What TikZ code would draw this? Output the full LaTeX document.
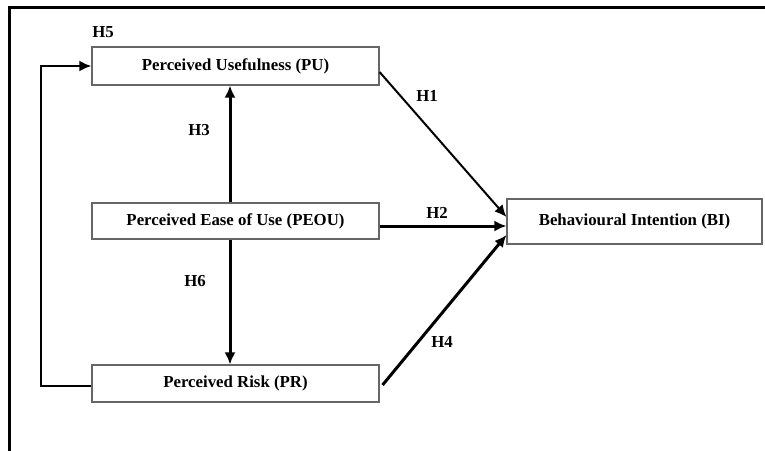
\documentclass[tikz,border=0pt]{standalone}
\usepackage{fontspec}
\setmainfont{Liberation Serif}
\usetikzlibrary{arrows.meta,calc}
\begin{document}
\begin{tikzpicture}[x=1pt,y=-1pt,
  box/.style={draw=black!60,line width=1.1pt,fill=white,inner sep=0pt,
    font=\fontsize{16.8}{20}\selectfont\bfseries},
  lbl/.style={inner sep=0pt,font=\fontsize{16.8}{20}\selectfont\bfseries},
  conn/.style={line width=3pt,-{Latex[length=12pt,width=11pt]}},
  thin conn/.style={line width=2pt,-{Latex[length=12pt,width=11pt]}}]
\useasboundingbox (0,0) rectangle (765,450);
% frame
\draw[line width=3pt] (9,451) -- (9,7) -- (766,7);
% boxes
\node[box,minimum width=287pt,minimum height=38pt] (PU) at (235.5,66) {Perceived Usefulness (PU)};
\node[box,minimum width=287pt,minimum height=36pt] (PEOU) at (235.5,221) {Perceived Ease of Use (PEOU)};
\node[box,minimum width=287pt,minimum height=37pt] (PR) at (235.5,383.5) {Perceived Risk (PR)};
\node[box,minimum width=255pt,minimum height=45pt] (BI) at (634.5,221.5) {Behavioural Intention (BI)};
% connectors
\draw[conn] ($(PEOU.north)+(-5.5,0)$) -- ($(PU.south)+(-5.5,0)$);
\draw[conn] ($(PEOU.south)+(-5.5,0)$) -- ($(PR.north)+(-5.5,0)$);
\draw[conn] ($(PEOU.east)+(0,5)$) -- ($(BI.west)+(0,4.5)$);
\draw[thin conn] ($(PU.east)+(0,6)$) -- ($(BI.west)+(0,-4.5)$);
\draw[conn] ($(PR.east)+(3,1.5)$) -- ($(BI.west)+(0,13.5)$);
\coordinate (loopL) at (41,0);
\draw[conn,line width=2.5pt] ($(PR.west)+(0,2.5)$) -| (loopL |- PU.west) -- (PU.west);
% labels
\node[lbl] (H5) at (103,32) {H5};
\node[lbl] (H1) at (427,96) {H1};
\node[lbl] (H3) at (199,130) {H3};
\node[lbl] (H2) at (437,213) {H2};
\node[lbl] (H6) at (195,281) {H6};
\node[lbl] (H4) at (442,342) {H4};
\end{tikzpicture}
\end{document}
